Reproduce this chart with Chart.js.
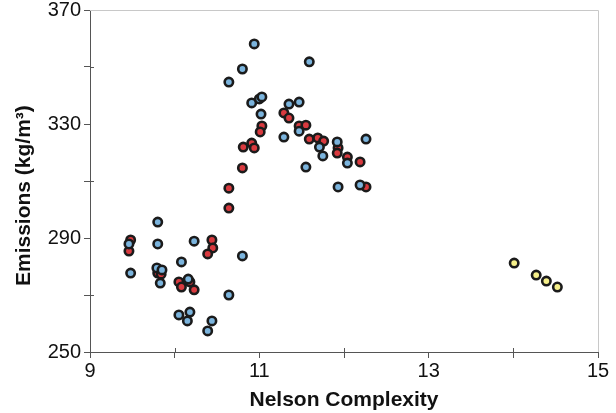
<!DOCTYPE html>
<html>
<head>
<meta charset="utf-8">
<script src="https://cdn.jsdelivr.net/npm/chart.js@4"></script>
<style>
  body { margin: 0; background: #fff; }
  #box { width: 616px; height: 413px; }
</style>
</head>
<body>
<div id="box"><canvas id="grafico"></canvas></div>
<script>
// data
let azulX = [9.48, 9.46, 9.80, 9.80, 9.79, 9.83, 9.85, 10.23, 10.08, 10.16, 10.05, 10.18, 10.15, 10.44, 10.39,
  10.64, 10.80, 10.94, 11.59, 10.80, 10.64, 10.91, 11.00, 11.03, 11.02, 11.35, 11.47, 11.29, 11.47,
  11.71, 11.75, 11.92, 12.26, 12.04, 11.55, 11.93, 12.19];
let azulY = [277.7, 287.9, 295.6, 287.9, 279.5, 274.2, 278.8, 288.9, 281.6, 275.6, 263.0, 264.0, 260.9, 260.9, 257.4,
  270.0, 283.7, 358.1, 351.8, 349.3, 344.7, 337.4, 338.8, 339.5, 333.5, 337.0, 337.7, 325.4, 327.5,
  321.9, 318.8, 323.7, 324.7, 316.3, 314.9, 307.9, 308.6];

let vermelhoX = [9.48, 9.46, 9.80, 9.84, 10.44, 10.45, 10.39, 10.05, 10.08, 10.18, 10.23, 10.64, 10.64, 10.80,
  10.81, 10.91, 10.94, 11.03, 11.01, 11.29, 11.35, 11.47, 11.55, 11.59, 11.69, 11.76, 11.93, 11.92,
  12.04, 12.19, 12.26];
let vermelhoY = [289.3, 285.4, 277.7, 277.3, 289.3, 286.5, 284.4, 274.6, 272.8, 274.6, 271.8, 300.5, 307.5, 314.6,
  321.9, 323.3, 321.6, 329.3, 327.2, 333.9, 332.1, 329.3, 329.6, 324.7, 325.1, 324.0, 321.6, 319.8,
  318.4, 316.7, 307.9];

let amareloX = [14.01, 14.27, 14.39, 14.52];
let amareloY = [281.2, 277.0, 274.9, 272.8];

let ticksX = [9, 11, 13, 15];
let ticksY = [250, 290, 330, 370];

function pontos(xs, ys) {
  return xs.map((x, i) => ({ x: x, y: ys[i] }));
}

function serie(xs, ys, cor) {
  return {
    data: pontos(xs, ys),
    backgroundColor: cor,
    borderColor: "#1b1b1b",
    borderWidth: 2.6,
    pointRadius: 4.2,
    pointHoverRadius: 4.2
  };
}

// top/right frame and the small inner ticks on the minor positions
let moldura = {
  id: "moldura",
  afterDraw(chart) {
    let ctx = chart.ctx;
    let a = chart.chartArea;
    ctx.save();
    ctx.strokeStyle = "#c8c8c8";
    ctx.lineWidth = 1;
    ctx.beginPath();
    ctx.moveTo(a.left, a.top + 0.5);
    ctx.lineTo(a.right + 0.5, a.top + 0.5);
    ctx.lineTo(a.right + 0.5, a.bottom);
    ctx.stroke();

    ctx.strokeStyle = "#555";
    ctx.beginPath();
    [10, 12, 14].forEach(v => {
      let px = Math.round(chart.scales.x.getPixelForValue(v)) + 0.5;
      ctx.moveTo(px, a.bottom);
      ctx.lineTo(px, a.bottom - 4);
    });
    [270, 310, 350].forEach(v => {
      let py = Math.round(chart.scales.y.getPixelForValue(v)) + 0.5;
      ctx.moveTo(a.left, py);
      ctx.lineTo(a.left + 4, py);
    });
    ctx.stroke();
    ctx.restore();
  }
};

let fonte = "Liberation Sans, Arial";
let ctx = document.getElementById("grafico").getContext("2d");

let chart = new Chart(ctx, {
  type: "scatter",
  data: {
    datasets: [
      serie(azulX, azulY, "#7bb4dd"),
      serie(vermelhoX, vermelhoY, "#d93a3f"),
      serie(amareloX, amareloY, "#f6f08a")
    ]
  },
  plugins: [moldura],
  options: {
    responsive: true,
    maintainAspectRatio: false,
    animation: false,
    layout: { padding: { top: 10, right: 18, left: 0, bottom: 0 } },
    plugins: {
      legend: { display: false },
      tooltip: { enabled: false }
    },
    scales: {
      x: {
        type: "linear",
        min: 9,
        max: 15,
        afterFit: s => { s.height = 61; s.paddingLeft = 0; s.paddingRight = 0; },
        border: { color: "#555", width: 1 },
        grid: { drawOnChartArea: false, color: "#555", tickLength: 6 },
        ticks: {
          stepSize: 1,
          color: "#111",
          padding: 1,
          maxRotation: 0,
          font: { family: fonte, size: 20 },
          callback: v => ticksX.includes(v) ? v : ""
        },
        title: {
          display: true,
          text: "Nelson Complexity",
          color: "#111",
          padding: { top: 0, bottom: 0 },
          font: { family: fonte, size: 21, weight: "bold" }
        }
      },
      y: {
        min: 250,
        max: 370,
        afterFit: s => { s.width = 90; s.paddingTop = 0; s.paddingBottom = 0; },
        border: { color: "#555", width: 1 },
        grid: { drawOnChartArea: false, color: "#555", tickLength: 6 },
        ticks: {
          stepSize: 20,
          color: "#111",
          padding: 3,
          font: { family: fonte, size: 20 },
          callback: v => ticksY.includes(v) ? v : ""
        },
        title: {
          display: true,
          text: "Emissions (kg/m³)     ",
          color: "#111",
          padding: { top: 12, bottom: 0 },
          font: { family: fonte, size: 21, weight: "bold" }
        }
      }
    }
  }
});
</script>
</body>
</html>
